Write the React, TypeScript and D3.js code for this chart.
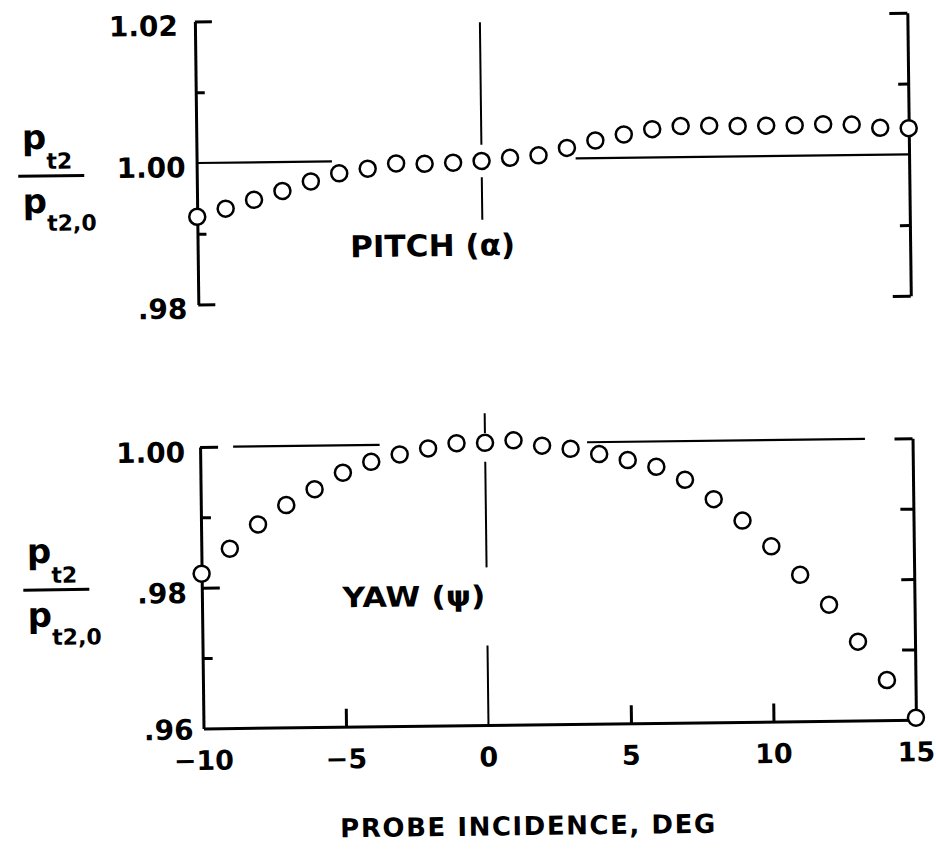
import React, { useRef, useEffect } from 'react';
import * as d3 from 'd3';

// probe incidence, deg
const incidence = [-10, -9, -8, -7, -6, -5, -4, -3, -2, -1, 0, 1, 2, 3, 4, 5, 6, 7, 8, 9, 10, 11, 12, 13, 14, 15];

// p_t2 / p_t2,0, pitch sweep
const pitchRatio = [
    0.9924, 0.9935, 0.9947, 0.9959, 0.9972, 0.9983, 0.9989, 0.9996, 0.9995, 0.9996,
    0.9998, 1.0002, 1.0005, 1.0015, 1.0025, 1.0033, 1.0040, 1.0044, 1.0044, 1.0043,
    1.0043, 1.0043, 1.0044, 1.0043, 1.0038, 1.0037,
];

// p_t2 / p_t2,0, yaw sweep
const yawRatio = [
    0.9820, 0.9855, 0.9889, 0.9916, 0.9938, 0.9961, 0.9976, 0.9986, 0.9994, 1.0001,
    1.0001, 1.0004, 0.9996, 0.9991, 0.9983, 0.9974, 0.9964, 0.9945, 0.9917, 0.9886,
    0.9849, 0.9808, 0.9765, 0.9712, 0.9657, 0.9603,
];

const xTicks = [-10, -5, 0, 5, 10, 15];
const xTickLabels = ['\u221210', '\u22125', '0', '5', '10', '15'];

const pitchMajor = [1.02, 0.98];
const pitchMinor = [1.01, 0.99];
const pitchLabelValues = [1.02, 1.0, 0.98];
const pitchTickLabels = ['1.02', '1.00', '.98'];

const yawMajor = [1.0, 0.98];
const yawMinor = [0.99, 0.97];
const yawRightMinor = [0.99, 0.98, 0.97];
const yawLabelValues = [1.0, 0.98, 0.96];
const yawTickLabels = ['1.00', '.98', '.96'];

// guide lines (data units): horizontal at ratio 1.00, vertical at 0 deg
const pitchRefH = [[-10, -5.25], [3.3, 15]];
const pitchRefV = [[1.0194, 1.0021], [0.9975, 0.9915]];
const yawRefH = [[-8.84, -3.7], [3.58, 13.33]];
const yawRefV = [[1.0043, 1.0015], [0.9974, 0.9824], [0.9713, 0.96]];

const FONT = "'DejaVu Sans', sans-serif";

const ProbeChart: React.FC = () => {
    const ref = useRef<SVGSVGElement | null>(null);

    useEffect(() => {
        if (!ref.current) return;
        const svg = d3.select(ref.current);
        svg.selectAll('*').remove();

        svg.append('rect').attr('width', 936).attr('height', 857).attr('fill', '#fff');

        // the scan is tilted a little, so the whole drawing is rotated
        const root = svg.append('g').attr('transform', 'rotate(-0.7, 202, 728)');

        const x = d3.scaleLinear().domain([-10, 15]).range([203.5, 916]);
        const yP = d3.scaleLinear().domain([0.98, 1.02]).range([304.5, 21.5]);
        const yY = d3.scaleLinear().domain([0.96, 1.0]).range([728.5, 447]);

        const styleAxis = (g: any, keepDomain: boolean) => {
            g.selectAll('line').attr('stroke', '#000').attr('stroke-width', 3);
            g.selectAll('path').attr('stroke', '#000').attr('stroke-width', 3);
            g.selectAll('text').remove();
            if (!keepDomain) g.select('.domain').remove();
        };

        const noLabel = () => '';

        // ---- pitch panel ----
        const p = root.append('g');
        p.append('g').attr('transform', `translate(${x(-10)},0)`)
            .call(d3.axisRight(yP).tickValues(pitchMajor).tickSize(17).tickSizeOuter(0).tickFormat(noLabel))
            .call((g: any) => styleAxis(g, true));
        p.append('g').attr('transform', `translate(${x(-10)},0)`)
            .call(d3.axisRight(yP).tickValues(pitchMinor).tickSize(9).tickFormat(noLabel))
            .call((g: any) => styleAxis(g, false));
        p.append('g').attr('transform', `translate(${x(15)},0)`)
            .call(d3.axisLeft(yP).tickValues(pitchMajor).tickSize(18).tickSizeOuter(0).tickFormat(noLabel))
            .call((g: any) => styleAxis(g, true));
        p.append('g').attr('transform', `translate(${x(15)},0)`)
            .call(d3.axisLeft(yP).tickValues(pitchMinor).tickSize(10).tickFormat(noLabel))
            .call((g: any) => styleAxis(g, false));

        p.selectAll('line.refh').data(pitchRefH).join('line')
            .attr('x1', (d) => x(d[0])).attr('x2', (d) => x(d[1]))
            .attr('y1', yP(1)).attr('y2', yP(1))
            .attr('stroke', '#000').attr('stroke-width', 2.2);
        p.selectAll('line.refv').data(pitchRefV).join('line')
            .attr('x1', x(0)).attr('x2', x(0))
            .attr('y1', (d) => yP(d[0])).attr('y2', (d) => yP(d[1]))
            .attr('stroke', '#000').attr('stroke-width', 2);

        p.selectAll('text.tl').data(pitchLabelValues).join('text')
            .attr('x', (d, i) => x(-10) - (i === 0 ? 17 : 11))
            .attr('y', (d) => yP(d) + 14)
            .attr('text-anchor', 'end')
            .attr('font-family', FONT).attr('font-weight', 'bold').attr('font-size', 28)
            .text((d, i) => pitchTickLabels[i]);

        p.selectAll('circle').data(incidence).join('circle')
            .attr('cx', (d) => x(d)).attr('cy', (d, i) => yP(pitchRatio[i]))
            .attr('r', 8).attr('fill', '#fff').attr('stroke', '#000').attr('stroke-width', 2.5);

        p.append('text').attr('x', 356).attr('y', 259)
            .attr('font-family', FONT).attr('font-weight', 'bold').attr('font-size', 30)
            .attr('textLength', 165).attr('lengthAdjust', 'spacingAndGlyphs')
            .text('PITCH (\u03B1)');

        // ---- yaw panel ----
        const w = root.append('g');
        w.append('g').attr('transform', `translate(${x(-10)},0)`)
            .call(d3.axisRight(yY).tickValues(yawMajor).tickSize(18).tickSizeOuter(0).tickFormat(noLabel))
            .call((g: any) => styleAxis(g, true));
        w.append('g').attr('transform', `translate(${x(-10)},0)`)
            .call(d3.axisRight(yY).tickValues(yawMinor).tickSize(10).tickFormat(noLabel))
            .call((g: any) => styleAxis(g, false));
        w.append('g').attr('transform', `translate(${x(15)},0)`)
            .call(d3.axisLeft(yY).tickValues([1.0]).tickSize(18).tickSizeOuter(0).tickFormat(noLabel))
            .call((g: any) => styleAxis(g, true));
        w.append('g').attr('transform', `translate(${x(15)},0)`)
            .call(d3.axisLeft(yY).tickValues(yawRightMinor).tickSize(13).tickFormat(noLabel))
            .call((g: any) => styleAxis(g, false));
        w.append('g').attr('transform', `translate(0,${yY(0.96)})`)
            .call(d3.axisTop(x).tickValues([-5, 5, 10]).tickSize(18).tickSizeOuter(0).tickFormat(noLabel))
            .call((g: any) => styleAxis(g, true));

        w.selectAll('line.refh').data(yawRefH).join('line')
            .attr('x1', (d) => x(d[0])).attr('x2', (d) => x(d[1]))
            .attr('y1', yY(1)).attr('y2', yY(1))
            .attr('stroke', '#000').attr('stroke-width', 2.2);
        w.selectAll('line.refv').data(yawRefV).join('line')
            .attr('x1', x(0)).attr('x2', x(0))
            .attr('y1', (d) => yY(d[0])).attr('y2', (d) => yY(d[1]))
            .attr('stroke', '#000').attr('stroke-width', 2);

        w.selectAll('text.tl').data(yawLabelValues).join('text')
            .attr('x', (d, i) => x(-10) - (i === 2 ? 10 : 15))
            .attr('y', (d, i) => yY(d) + (i === 2 ? 11 : 15))
            .attr('text-anchor', 'end')
            .attr('font-family', FONT).attr('font-weight', 'bold').attr('font-size', 28)
            .text((d, i) => yawTickLabels[i]);

        w.selectAll('text.xl').data(xTicks).join('text')
            .attr('x', (d) => x(d)).attr('y', 770)
            .attr('text-anchor', 'middle')
            .attr('font-family', FONT).attr('font-weight', 'bold').attr('font-size', 27)
            .text((d, i) => xTickLabels[i]);

        w.selectAll('circle').data(incidence).join('circle')
            .attr('cx', (d) => x(d)).attr('cy', (d, i) => yY(yawRatio[i]))
            .attr('r', 8).attr('fill', '#fff').attr('stroke', '#000').attr('stroke-width', 2.5);

        w.append('text').attr('x', 344).attr('y', 609)
            .attr('font-family', FONT).attr('font-weight', 'bold').attr('font-size', 28)
            .attr('textLength', 143).attr('lengthAdjust', 'spacingAndGlyphs')
            .text('YAW (\u03C8)');

        // ---- y labels: p_t2 / p_t2,0 ----
        const fraction = (lineY: number) => {
            const f = root.append('g').attr('font-family', FONT).attr('font-weight', 'bold');
            f.append('line').attr('x1', 25).attr('x2', 91).attr('y1', lineY).attr('y2', lineY)
                .attr('stroke', '#000').attr('stroke-width', 3);
            const num = f.append('text').attr('x', 29).attr('y', lineY - 27).attr('font-size', 34).text('p');
            num.append('tspan').attr('font-size', 22).attr('dy', 20).text('t2');
            const den = f.append('text').attr('x', 29).attr('y', lineY + 37).attr('font-size', 34).text('p');
            den.append('tspan').attr('font-size', 22).attr('dy', 18).text('t2,0');
        };
        fraction(174);
        fraction(588);

        // x title
        root.append('text').attr('x', 339).attr('y', 839)
            .attr('font-family', FONT).attr('font-weight', 'bold').attr('font-size', 26)
            .attr('textLength', 375).attr('lengthAdjust', 'spacing')
            .text('PROBE INCIDENCE, DEG');
    }, []);

    return (
        <svg ref={ref} width={936} height={857} style={{ position: 'absolute', left: 0, top: 0 }} />
    );
};

export default function App() {
    return <ProbeChart />;
}
